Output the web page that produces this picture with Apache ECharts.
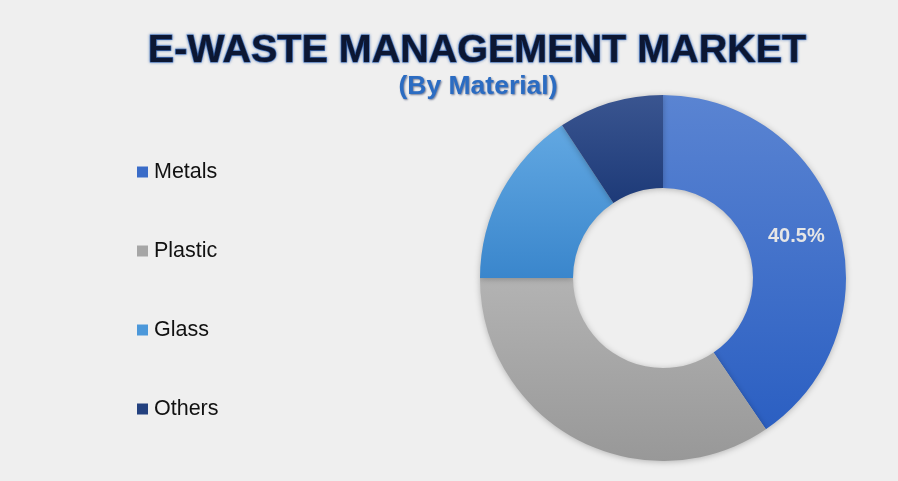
<!DOCTYPE html>
<html>
<head>
<meta charset="utf-8">
<script src="https://cdn.jsdelivr.net/npm/echarts@6/dist/echarts.min.js"></script>
<style>
html,body{margin:0;padding:0;background:#efefef;}
#chart{width:898px;height:481px;}
</style>
</head>
<body>
<div id="chart"></div>
<script>
var categories = ['Metals', 'Plastic', 'Glass', 'Others'];
var shares = [40.5, 34.5, 15.7, 9.3];
var labelText = ['40.5%', '', '', ''];

function grad(a, b) {
  return new echarts.graphic.LinearGradient(0, 0, 0, 1, [{offset: 0, color: a}, {offset: 1, color: b}]);
}
var colors = [
  grad('#5a84d2', '#2b5fc2'),
  grad('#b3b3b3', '#989898'),
  grad('#62a8e2', '#3a86cc'),
  grad('#3a5590', '#1d3a78')
];
var legendColors = ['#3a6cc8', '#a6a6a6', '#4c98da', '#23417f'];

var chart = echarts.init(document.getElementById('chart'));
chart.setOption({
  backgroundColor: '#efefef',
  title: [{
    text: 'E-WASTE MANAGEMENT MARKET',
    left: 472, textAlign: 'center', top: 26,
    textStyle: {
      fontFamily: 'Liberation Sans', fontWeight: 'bold', fontSize: 39.5,
      color: '#0c1733', textBorderColor: '#3d6cb5', textBorderWidth: 1.2,
      textShadowColor: 'rgba(40,90,170,0.6)', textShadowBlur: 3
    }
  }, {
    text: '(By Material)',
    left: 473, textAlign: 'center', top: 68,
    textStyle: {
      fontFamily: 'Liberation Sans', fontWeight: 'bold', fontSize: 26.5,
      color: '#2b6cc2', textShadowColor: 'rgba(10,30,80,0.55)', textShadowBlur: 2,
      textShadowOffsetX: 1, textShadowOffsetY: 1
    }
  }],
  legend: {
    orient: 'vertical', left: 132, top: 156,
    icon: 'rect', itemWidth: 11, itemHeight: 11, itemGap: 57,
    textStyle: {fontFamily: 'Liberation Sans', fontSize: 21.5, lineHeight: 20, color: '#111', padding: [0, 0, 0, 1]},
    data: categories.map(function (c, i) { return {name: c, itemStyle: {color: legendColors[i]}}; })
  },
  series: [{
    type: 'pie',
    center: [663, 278],
    radius: [90, 183],
    startAngle: 90,
    clockwise: true,
    avoidLabelOverlap: false,
    emphasis: {disabled: true},
    itemStyle: {shadowColor: 'rgba(0,0,0,0.25)', shadowBlur: 6, shadowOffsetY: 1},
    labelLine: {show: false},
    data: categories.map(function (c, i) {
      return {
        name: c, value: shares[i],
        itemStyle: {color: colors[i]},
        label: {
          show: labelText[i] !== '', position: 'inside', formatter: labelText[i],
          fontFamily: 'Liberation Sans', fontWeight: 'bold', fontSize: 20, color: '#e6e6e6'
        }
      };
    })
  }]
});
</script>
</body>
</html>
